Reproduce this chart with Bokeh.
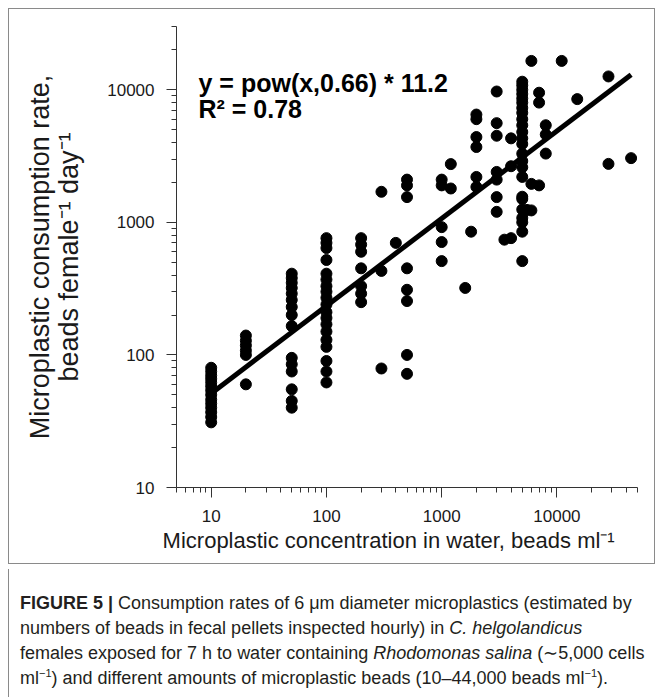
from bokeh.plotting import figure
from bokeh.models import FixedTicker, NumeralTickFormatter, Label, Div, Range1d
from bokeh.layouts import column
from bokeh.embed import file_html
from bokeh.resources import INLINE

# ---------------- data ----------------
concentration = (
    [10] * 14 + [20] * 6 + [50] * 15 + [100] * 19 + [200] * 7 + [300] * 3 + [400] +
    [500] * 8 + [1000] * 5 + [1200] * 2 + [1600] + [1800] + [2000] * 6 + [3000] * 7 +
    [3500] + [4000] * 3 + [5000] * 24 + [5500] + [6000] * 3 + [7000] * 3 + [8000] * 3 +
    [11000] + [15000] + [28000] * 2 + [44000]
)
consumption = (
    [80, 75, 70, 66, 62, 58, 54, 50, 46, 43, 40, 37, 34, 31] +
    [140, 128, 118, 108, 100, 60] +
    [410, 380, 350, 320, 290, 260, 230, 200, 165, 95, 85, 75, 55, 45, 40] +
    [760, 700, 640, 520, 410, 370, 330, 300, 270, 240, 210, 190, 170, 150, 130, 115, 90, 75, 62] +
    [760, 680, 600, 450, 330, 290, 250] +
    [1700, 430, 79] +
    [700] +
    [2100, 1900, 1550, 450, 310, 255, 100, 72] +
    [2100, 1900, 920, 710, 510] +
    [2750, 1800] +
    [320] +
    [850] +
    [6500, 6000, 4400, 3700, 2200, 1850] +
    [9700, 5600, 4500, 2400, 2100, 1550, 1200] +
    [740] +
    [4300, 2650, 760] +
    [11500, 10800, 10000, 9300, 8600, 8000, 7300, 6700, 6000, 5400, 4800, 4300, 3900,
     3300, 2900, 2600, 2200, 1560, 1500, 1250, 1080, 1000, 850, 510] +
    [1240] +
    [16500, 1950, 1230] +
    [9500, 8000, 1900] +
    [5400, 4600, 3300] +
    [16500] +
    [8500] +
    [12600, 2760] +
    [3050]
)

fit_coef = 11.2
fit_exp = 0.66
fit_x = [10, 44000]

x_major = [10, 100, 1000, 10000]
x_minor = [5, 6, 7, 8, 9, 20, 30, 40, 50, 60, 70, 80, 90, 200, 300, 400, 500, 600, 700, 800, 900,
           2000, 3000, 4000, 5000, 6000, 7000, 8000, 9000, 20000, 30000, 40000, 50000]
y_major = [10, 100, 1000, 10000]
y_minor = [20, 30, 40, 50, 60, 70, 80, 90, 200, 300, 400, 500, 600, 700, 800, 900,
           2000, 3000, 4000, 5000, 6000, 7000, 8000, 9000, 20000, 30000]

equation_text = ["y = pow(x,0.66) * 11.2", "R\u00b2 = 0.78"]
x_title = "Microplastic concentration in water, beads ml\u207b\u00b9"
y_title = "Microplastic consumption rate,\nbeads female\u207b\u00b9 day\u207b\u00b9"

FONT = "Liberation Sans"
INK = "#1a1a1a"
GRAY = "#8a8a8a"

# ---------------- figure ----------------
FW, FH = 647, 556
p = figure(width=FW, height=FH, x_axis_type="log", y_axis_type="log",
           x_range=Range1d(5, 50000), y_range=Range1d(10, 30000),
           output_backend="svg", toolbar_location=None, title=None,
           min_border_left=167, min_border_right=19, min_border_top=17, min_border_bottom=78)
p.styles = {"border": f"1px solid {GRAY}", "margin-left": "8px", "margin-top": "8px"}
p.outline_line_color = None
p.xgrid.visible = False
p.ygrid.visible = False
p.background_fill_color = "white"
p.border_fill_color = "white"

p.xaxis.ticker = FixedTicker(ticks=x_major, minor_ticks=x_minor)
p.yaxis.ticker = FixedTicker(ticks=y_major, minor_ticks=y_minor)
for ax in (p.xaxis[0], p.yaxis[0]):
    ax.formatter = NumeralTickFormatter(format="0")
    ax.axis_line_color = "#333333"
    ax.major_tick_line_color = "#333333"
    ax.minor_tick_line_color = "#333333"
    ax.major_tick_out = 10
    ax.major_tick_in = 0
    ax.minor_tick_out = 5
    ax.minor_tick_in = 0
    ax.major_label_text_font = FONT
    ax.major_label_text_font_size = "17px"
    ax.major_label_text_color = INK
    ax.major_label_standoff = 12
    ax.axis_label_text_font = FONT
    ax.axis_label_text_font_style = "normal"
    ax.axis_label_text_color = INK

# trailing no-break spaces shift the centred title slightly left, as in the reference
p.xaxis.axis_label = x_title + "\u00a0" * 6
p.xaxis.axis_label_text_font_size = "22px"
p.xaxis.axis_label_standoff = 3
p.yaxis.axis_label = y_title
p.yaxis.axis_label_text_font_size = "27px"
p.yaxis.axis_label_text_line_height = 0.96
p.yaxis.axis_label_standoff = 20

# regression line from the stated fit
fit_y = [fit_coef * v ** fit_exp for v in fit_x]
p.line(fit_x, fit_y, line_width=5, color="black")
p.scatter(concentration, consumption, size=11, color="black")

for i, t in enumerate(equation_text):
    p.add_layout(Label(x=188, y=72 + 26 * i, x_units="canvas", y_units="canvas", text=t,
                       text_font=FONT, text_font_size="25px", text_font_style="bold",
                       text_align="left", text_baseline="alphabetic", text_color="black"))

sup = '<sup style="font-size:11px;line-height:0">\u22121</sup>'
caption_html = (
    '<div style="font-family:\'Liberation Sans\',Arial,sans-serif;font-size:18px;line-height:25px;'
    'color:#231f20;white-space:nowrap;padding:22px 0 0 11px;'
    f'border-left:1px solid {GRAY};height:109px;box-sizing:content-box;">'
    '<b>FIGURE 5 |</b> Consumption rates of 6 \u03bcm diameter microplastics (estimated by<br>'
    'numbers of beads in fecal pellets inspected hourly) in <i>C. helgolandicus</i><br>'
    'females exposed for 7 h to water containing <i>Rhodomonas salina</i> (\u223c5,000 cells<br>'
    f'ml{sup}) and different amounts of microplastic beads (10\u201344,000 beads ml{sup}).'
    '</div>'
)
caption = Div(text=caption_html, width=649, height=131, styles={"margin-left": "8px"})

layout = column(p, caption)
open("out.html", "w").write(file_html(layout, INLINE))
